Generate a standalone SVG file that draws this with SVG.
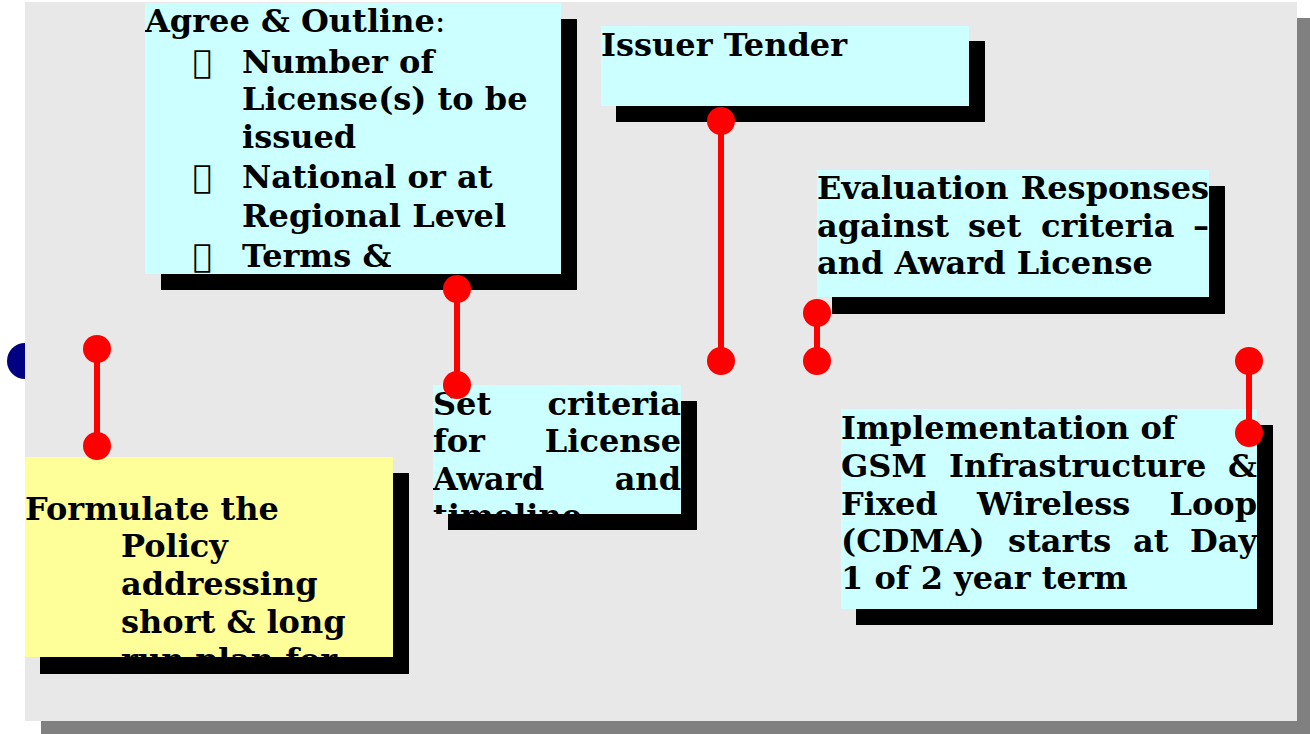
<svg xmlns="http://www.w3.org/2000/svg" width="1310" height="734" viewBox="0 0 1310 734">
<style>
.t{font-family:"DejaVu Serif","Liberation Serif",serif;font-weight:bold;font-size:32px;fill:#000}
.r{font-weight:normal}
.cy{fill:#ccffff}
.ye{fill:#ffff99}
.sh{fill:#000}
.ln{stroke:#ff0000;stroke-width:6;fill:none}
.dt{fill:#ff0000}
</style>
<defs>
<clipPath id="c1"><rect x="145" y="3" width="416" height="271"/></clipPath>
<clipPath id="c4"><rect x="433" y="385" width="248" height="129"/></clipPath>
<clipPath id="c5"><rect x="25" y="457" width="368" height="200"/></clipPath>
</defs>
<rect x="41" y="18" width="1272" height="719" fill="#808080"/>
<circle cx="25" cy="361" r="18" fill="#000080"/>
<rect x="25" y="2" width="1272" height="719" fill="#e8e8e8"/>

<g id="agree">
<rect class="sh" x="161" y="19" width="416" height="271"/>
<rect class="cy" x="145" y="3" width="416" height="271"/>
<g clip-path="url(#c1)">
<text class="t" x="145" y="32">Agree &amp; Outline<tspan class="r">:</tspan></text>
<text class="t r" x="193" y="73">&#xF0D8;</text>
<text class="t" x="242" y="73">Number of</text>
<text class="t" x="242" y="110">License(s) to be</text>
<text class="t" x="242" y="148">issued</text>
<text class="t r" x="193" y="188">&#xF0D8;</text>
<text class="t" x="242" y="188">National or at</text>
<text class="t" x="242" y="227">Regional Level</text>
<text class="t r" x="193" y="267">&#xF0D8;</text>
<text class="t" x="242" y="267">Terms &amp;</text>
</g>
</g>

<g id="issuer">
<rect class="sh" x="616" y="41" width="369" height="81"/>
<rect class="cy" x="601" y="26" width="368" height="80"/>
<text class="t" x="601" y="56">Issuer Tender</text>
</g>

<g id="evaluation">
<rect class="sh" x="832" y="186" width="393" height="128"/>
<rect class="cy" x="817" y="170" width="392" height="127"/>
<text class="t" x="817" y="199">Evaluation</text>
<text class="t" x="1209" y="199" text-anchor="end">Responses</text>
<text class="t" x="817" y="237">against</text>
<text class="t" x="968" y="237">set</text>
<text class="t" x="1041" y="237">criteria</text>
<text class="t" x="1209" y="237" text-anchor="end">–</text>
<text class="t" x="817" y="274">and Award License</text>
</g>

<g id="setcriteria">
<rect class="sh" x="448" y="401" width="249" height="129"/>
<rect class="cy" x="433" y="385" width="248" height="129"/>
<g clip-path="url(#c4)">
<text class="t" x="433" y="415">Set</text>
<text class="t" x="681" y="415" text-anchor="end">criteria</text>
<text class="t" x="433" y="452">for</text>
<text class="t" x="681" y="452" text-anchor="end">License</text>
<text class="t" x="433" y="490">Award</text>
<text class="t" x="681" y="490" text-anchor="end">and</text>
<text class="t" x="433" y="527">timeline</text>
</g>
</g>

<g id="formulate">
<rect class="sh" x="40" y="473" width="369" height="201"/>
<rect class="ye" x="25" y="457" width="368" height="200"/>
<g clip-path="url(#c5)">
<text class="t" x="25" y="520">Formulate the</text>
<text class="t" x="121" y="557">Policy</text>
<text class="t" x="121" y="595">addressing</text>
<text class="t" x="121" y="633">short &amp; long</text>
<text class="t" x="121" y="671">run plan for</text>
</g>
</g>

<g id="implementation">
<rect class="sh" x="856" y="425" width="417" height="200"/>
<rect class="cy" x="841" y="409" width="416" height="200"/>
<text class="t" x="841" y="439">Implementation of</text>
<text class="t" x="841" y="477">GSM</text>
<text class="t" x="949" y="477">Infrastructure</text>
<text class="t" x="1257" y="477" text-anchor="end">&amp;</text>
<text class="t" x="841" y="515">Fixed</text>
<text class="t" x="977" y="515">Wireless</text>
<text class="t" x="1257" y="515" text-anchor="end">Loop</text>
<text class="t" x="841" y="552">(CDMA)</text>
<text class="t" x="1008" y="552">starts</text>
<text class="t" x="1133" y="552">at</text>
<text class="t" x="1257" y="552" text-anchor="end">Day</text>
<text class="t" x="841" y="589">1 of 2 year term</text>
</g>

<g id="connectors">
<line class="ln" x1="97" y1="349" x2="97" y2="446"/>
<circle class="dt" cx="97" cy="349" r="14"/>
<circle class="dt" cx="97" cy="446" r="14"/>
<line class="ln" x1="457" y1="289" x2="457" y2="385"/>
<circle class="dt" cx="457" cy="289" r="14"/>
<circle class="dt" cx="457" cy="385" r="14"/>
<line class="ln" x1="721" y1="121" x2="721" y2="361"/>
<circle class="dt" cx="721" cy="121" r="14"/>
<circle class="dt" cx="721" cy="361" r="14"/>
<line class="ln" x1="817" y1="313" x2="817" y2="361"/>
<circle class="dt" cx="817" cy="313" r="14"/>
<circle class="dt" cx="817" cy="361" r="14"/>
<line class="ln" x1="1249" y1="361" x2="1249" y2="433"/>
<circle class="dt" cx="1249" cy="361" r="14"/>
<circle class="dt" cx="1249" cy="433" r="14"/>
</g>
</svg>
